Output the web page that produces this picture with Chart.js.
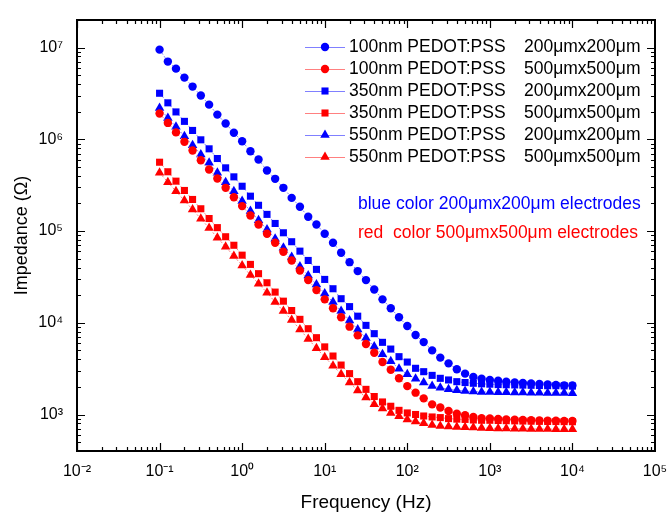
<!DOCTYPE html>
<html>
<head>
<meta charset="utf-8">
<title>Impedance vs Frequency</title>
<script src="https://cdn.jsdelivr.net/npm/chart.js@4.4.0/dist/chart.umd.min.js"></script>
<style>
  html, body { margin: 0; padding: 0; background: #fff; }
  #wrap { width: 667px; height: 512px; }
</style>
</head>
<body>
<div id="wrap"><canvas id="chart" width="667" height="512"></canvas></div>
<script>
// frequency points (Hz), 10 per decade
var freq = [0.1, 0.126, 0.158, 0.2, 0.251, 0.316, 0.398, 0.501, 0.631, 0.794,
  1, 1.26, 1.58, 2, 2.51, 3.16, 3.98, 5.01, 6.31, 7.94,
  10, 12.6, 15.8, 20, 25.1, 31.6, 39.8, 50.1, 63.1, 79.4,
  100, 126, 158, 200, 251, 316, 398, 501, 631, 794,
  1000, 1260, 1580, 2000, 2510, 3160, 3980, 5010, 6310, 7940, 10000];

// impedance (ohm)
var z100_200 = [9.5e6, 7.04e6, 5.9e6, 4.71e6, 3.76e6, 3.0e6, 2.39e6, 1.86e6, 1.49e6, 1.18e6,
  9.54e5, 7.42e5, 6.03e5, 4.57e5, 3.71e5, 2.96e5, 2.3e5, 1.84e5, 1.43e5, 1.18e5,
  9.35e4, 7.46e4, 5.8e4, 4.58e4, 3.66e4, 2.92e4, 2.31e4, 1.8e4, 1.44e4, 1.15e4,
  9210, 7350, 6160, 5000, 4170, 3610, 3110, 2790, 2560, 2460,
  2380, 2330, 2280, 2240, 2210, 2180, 2150, 2120, 2100, 2080, 2070];
var z100_500 = [1.91e6, 1.51e6, 1.19e6, 9.39e5, 7.55e5, 5.92e5, 4.69e5, 3.74e5, 2.96e5, 2.34e5,
  1.87e5, 1.48e5, 1.18e5, 9.35e4, 7.46e4, 5.95e4, 4.78e4, 3.72e4, 2.92e4, 2.27e4,
  1.8e4, 1.44e4, 1.15e4, 9070, 7290, 5860, 4720, 3730, 3070, 2480,
  2040, 1730, 1500, 1290, 1190, 1090, 1020, 980, 940, 910,
  905, 895, 885, 878, 872, 866, 862, 858, 855, 852, 850];
var z350_200 = [3.18e6, 2.5e6, 1.99e6, 1.57e6, 1.25e6, 9.88e5, 7.88e5, 6.18e5, 4.89e5, 3.9e5,
  3.08e5, 2.4e5, 1.91e5, 1.52e5, 1.21e5, 9.58e4, 7.65e4, 6.04e4, 4.78e4, 3.82e4,
  2.97e4, 2.35e4, 1.83e4, 1.5e4, 1.18e4, 9370, 7610, 6120, 5170, 4270,
  3730, 3190, 2930, 2670, 2480, 2380, 2280, 2230, 2190, 2160,
  2140, 2120, 2110, 2100, 2090, 2080, 2070, 2060, 2060, 2050, 2040];
var z350_500 = [5.63e5, 4.43e5, 3.5e5, 2.77e5, 2.21e5, 1.75e5, 1.37e5, 1.09e5, 8.67e4, 7.0e4,
  5.46e4, 4.33e4, 3.43e4, 2.73e4, 2.16e4, 1.72e4, 1.36e4, 1.09e4, 8620, 6880,
  5460, 4340, 3460, 2790, 2280, 1880, 1570, 1370, 1230, 1110,
  1040, 1000, 963, 940, 925, 902, 890, 884, 871, 865,
  865, 860, 856, 852, 848, 845, 842, 840, 838, 836, 834];
var z550_200 = [2.2e6, 1.71e6, 1.37e6, 1.08e6, 8.62e5, 6.83e5, 5.55e5, 4.32e5, 3.41e5, 2.72e5,
  2.12e5, 1.65e5, 1.31e5, 1.04e5, 8.24e4, 6.58e4, 5.2e4, 4.11e4, 3.28e4, 2.62e4,
  2.09e4, 1.68e4, 1.34e4, 1.06e4, 8470, 6810, 5510, 4530, 3800, 3160,
  2740, 2460, 2230, 2040, 1960, 1880, 1840, 1800, 1780, 1760,
  1760, 1750, 1750, 1740, 1740, 1730, 1730, 1720, 1720, 1720, 1710];
var z550_500 = [4.32e5, 3.41e5, 2.72e5, 2.15e5, 1.72e5, 1.36e5, 1.08e5, 8.45e4, 6.75e4, 5.33e4,
  4.22e4, 3.31e4, 2.67e4, 2.13e4, 1.68e4, 1.34e4, 1.07e4, 8470, 6640, 5290,
  4220, 3410, 2740, 2230, 1830, 1530, 1290, 1160, 1040, 955,
  880, 837, 802, 768, 750, 738, 731, 726, 720, 713,
  708, 705, 702, 700, 698, 696, 694, 693, 692, 691, 690];

var films = ['100nm PEDOT:PSS', '100nm PEDOT:PSS', '350nm PEDOT:PSS', '350nm PEDOT:PSS', '550nm PEDOT:PSS', '550nm PEDOT:PSS'];
var sizes = ['200\u03BCmx200\u03BCm', '500\u03BCmx500\u03BCm', '200\u03BCmx200\u03BCm', '500\u03BCmx500\u03BCm', '200\u03BCmx200\u03BCm', '500\u03BCmx500\u03BCm'];
var xMajor = [0.01, 0.1, 1, 10, 100, 1000, 10000, 100000];
var yMajor = [1e3, 1e4, 1e5, 1e6, 1e7];

var BLUE = '#0000ff', RED = '#ff0000';
var FONT = "'Liberation Sans', Arial, sans-serif";
Chart.defaults.font.family = FONT;

var allZ = [z100_200, z100_500, z350_200, z350_500, z550_200, z550_500];
var styles = [
  { c: BLUE, line: '#8080ff', shape: 'circle', r: 4.2 },
  { c: RED, line: '#ff8080', shape: 'circle', r: 4.2 },
  { c: BLUE, line: '#8080ff', shape: 'rect', r: 5 },
  { c: RED, line: '#ff8080', shape: 'rect', r: 5 },
  { c: BLUE, line: '#8080ff', shape: 'triangle', r: 5.5 },
  { c: RED, line: '#ff8080', shape: 'triangle', r: 5.5 }
];

var datasets = allZ.map(function (z, k) {
  var s = styles[k];
  return {
    label: films[k] + '  ' + sizes[k],
    data: z.map(function (v, i) { return { x: freq[i], y: v }; }),
    borderColor: s.line,
    borderWidth: 1,
    borderDash: [2, 2],
    pointStyle: s.shape,
    pointRadius: s.r,
    pointBackgroundColor: s.c,
    pointBorderColor: s.c,
    pointBorderWidth: 0,
    tension: 0
  };
});

var SUP = { '0': '\u2070', '1': '\u00B9', '2': '\u00B2', '3': '\u00B3', '4': '\u2074', '5': '\u2075',
  '6': '\u2076', '7': '\u2077', '8': '\u2078', '9': '\u2079', '-': '\u207B' };
function powLabel(v) {
  var e = String(Math.round(Math.log10(v)));
  return '10' + e.split('').map(function (ch) { return SUP[ch]; }).join('');
}

function marker(ctx, shape, r, x, y, color) {
  ctx.fillStyle = color;
  ctx.beginPath();
  if (shape === 'circle') {
    ctx.arc(x, y, r, 0, Math.PI * 2);
  } else if (shape === 'rect') {
    var h = r * Math.SQRT1_2;
    ctx.rect(x - h, y - h, 2 * h, 2 * h);
  } else {
    ctx.moveTo(x, y - r);
    ctx.lineTo(x + r * 0.866, y + r * 0.5);
    ctx.lineTo(x - r * 0.866, y + r * 0.5);
    ctx.closePath();
  }
  ctx.fill();
}

// inward ticks on all four sides, frame, legend and notes
var frame = {
  id: 'frame',
  afterDraw: function (chart) {
    var ctx = chart.ctx, a = chart.chartArea;
    var xs = chart.scales.x, ys = chart.scales.y;
    ctx.save();
    ctx.strokeStyle = '#000';
    ctx.lineWidth = 1.2;
    ctx.beginPath();
    for (var e = -2; e <= 4; e++) {
      for (var k = 1; k <= 9; k++) {
        var px = Math.round(xs.getPixelForValue(k * Math.pow(10, e))) + 0.5;
        var len = k === 1 ? 8 : 4;
        ctx.moveTo(px, a.bottom); ctx.lineTo(px, a.bottom - len);
        ctx.moveTo(px, a.top); ctx.lineTo(px, a.top + len);
      }
    }
    for (var e2 = 2; e2 <= 7; e2++) {
      for (var k2 = 1; k2 <= 9; k2++) {
        var v = k2 * Math.pow(10, e2);
        if (v < 400 || v > 2e7) continue;
        var py = Math.round(ys.getPixelForValue(v)) + 0.5;
        var len2 = k2 === 1 ? 8 : 4;
        ctx.moveTo(a.left, py); ctx.lineTo(a.left + len2, py);
        ctx.moveTo(a.right, py); ctx.lineTo(a.right - len2, py);
      }
    }
    ctx.stroke();
    ctx.lineWidth = 2;
    ctx.strokeRect(a.left, a.top, a.right - a.left, a.bottom - a.top);

    // legend
    ctx.font = '17.5px ' + FONT;
    ctx.textBaseline = 'middle';
    ctx.textAlign = 'left';
    for (var i = 0; i < styles.length; i++) {
      var s = styles[i], ly = 47 + 22 * i;
      ctx.strokeStyle = s.line;
      ctx.lineWidth = 1;
      ctx.beginPath();
      ctx.moveTo(305, ly + 0.5); ctx.lineTo(345, ly + 0.5);
      ctx.stroke();
      marker(ctx, s.shape, s.r, 325, ly, s.c);
      ctx.fillStyle = '#000';
      ctx.fillText(films[i], 349, ly);
      ctx.fillText(sizes[i], 524, ly);
    }

    // notes
    ctx.font = '17.5px ' + FONT;
    ctx.fillStyle = BLUE;
    ctx.fillText('blue color 200\u03BCmx200\u03BCm electrodes', 358, 204);
    ctx.fillStyle = RED;
    ctx.fillText('red  color 500\u03BCmx500\u03BCm electrodes', 358, 233);
    ctx.restore();
  }
};

new Chart(document.getElementById('chart').getContext('2d'), {
  type: 'line',
  data: { datasets: datasets },
  options: {
    responsive: false,
    animation: false,
    layout: { padding: { top: 20, right: 12, left: 0, bottom: 0 } },
    plugins: { legend: { display: false }, tooltip: { enabled: false } },
    scales: {
      x: {
        type: 'logarithmic',
        min: 0.01,
        max: 100000,
        grid: { display: false, drawTicks: false },
        border: { display: false },
        ticks: {
          autoSkip: false, maxRotation: 0, color: '#000', padding: 11,
          font: { size: 16 },
          callback: function (v) { return powLabel(v); }
        },
        afterBuildTicks: function (s) { s.ticks = xMajor.map(function (v) { return { value: v }; }); },
        afterFit: function (s) { s.height = 61; s.paddingLeft = 0; s.paddingRight = 0; },
        title: { display: true, text: 'Frequency (Hz)', color: '#000', font: { size: 19, lineHeight: 1 }, padding: { top: 0, bottom: 0 } }
      },
      y: {
        type: 'logarithmic',
        min: 400,
        max: 2e7,
        grid: { display: false, drawTicks: false },
        border: { display: false },
        ticks: {
          autoSkip: false, color: '#000', padding: 14,
          font: { size: 16 },
          callback: function (v) { return powLabel(v); }
        },
        afterBuildTicks: function (s) { s.ticks = yMajor.map(function (v) { return { value: v }; }); },
        afterFit: function (s) { s.width = 77; s.paddingTop = 0; s.paddingBottom = 0; },
        title: { display: true, text: 'Impedance (\u03A9)', color: '#000', font: { size: 18 }, padding: { top: 11, bottom: 0 } }
      }
    }
  },
  plugins: [frame]
});
</script>
</body>
</html>
